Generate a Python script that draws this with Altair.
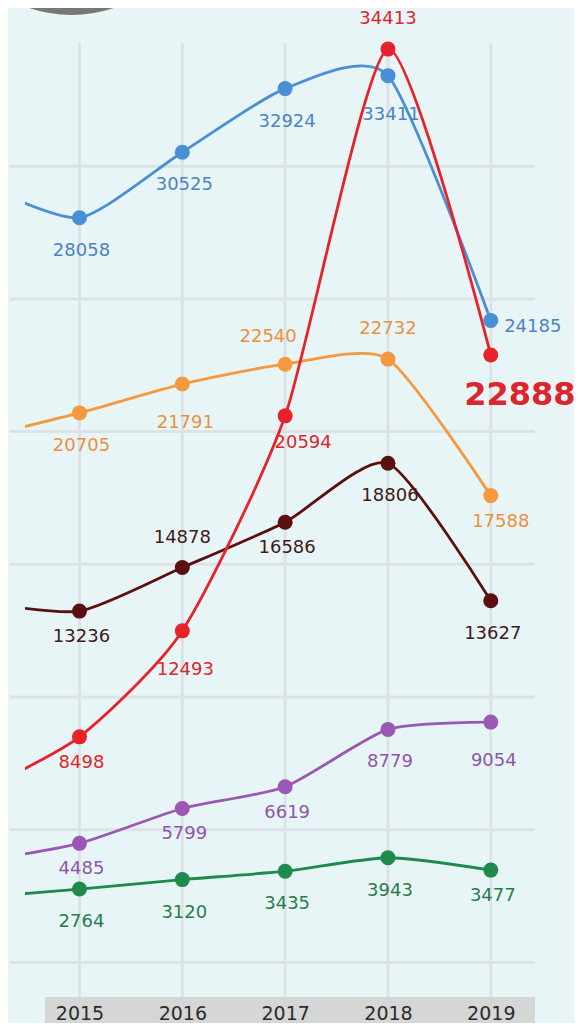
import altair as alt
import pandas as pd

# ---- data ----
years = [2014, 2015, 2016, 2017, 2018, 2019]
label_years = [2015, 2016, 2017, 2018, 2019]
grid_values = [0, 5000, 10000, 15000, 20000, 25000, 30000]

series_names = ["Blue", "Orange", "Brown", "Red", "Purple", "Green"]
blue_vals = [29400, 28058, 30525, 32924, 33411, 24185]
orange_vals = [19750, 20705, 21791, 22540, 22732, 17588]
brown_vals = [13600, 13236, 14878, 16586, 18806, 13627]
red_vals = [6400, 8498, 12493, 20594, 34413, 22888]
purple_vals = [3800, 4485, 5799, 6619, 8779, 9054]
green_vals = [2450, 2764, 3120, 3435, 3943, 3477]

# label placement keys for 2015..2019
blue_place = ["b", "b", "b", "bf", "r"]
orange_place = ["b", "bf", "al", "a", "bnr"]
brown_place = ["bn", "a", "bn", "b", "b"]
red_place = ["bn", "bf", "br", "a", "big"]
purple_place = ["bn", "bn", "bn", "b", "bf"]
green_place = ["b", "b", "b", "b", "bn"]

# ---- styles ----
line_colors = ["#4a8fd4", "#f4993d", "#5c0f10", "#e8212a", "#9a58b4", "#1e8a4b"]
text_colors = ["#4d84bf", "#e8913f", "#3f1a1a", "#dd252d", "#8d58a7", "#2a7b4c"]
offsets = {
    "b": (2, 33), "bn": (2, 26), "bf": (3, 39), "a": (0, -30), "al": (-17, -27),
    "r": (42, 6), "br": (18, 27), "bnr": (10, 26), "big": (29, 40),
}
BG = "#e8f5f6"
GRID = "#dbe3e6"
FONT = "DejaVu Sans"

all_vals = [blue_vals, orange_vals, brown_vals, red_vals, purple_vals, green_vals]
all_place = [blue_place, orange_place, brown_place, red_place, purple_place, green_place]

rows = []
for name, vals, places in zip(series_names, all_vals, all_place):
    for yr, v in zip(years, vals):
        place = places[label_years.index(yr)] if yr in label_years else ""
        rows.append({"series": name, "year": yr, "value": v, "place": place})
df = pd.DataFrame(rows)

W, H = 510, 989
xscale = alt.Scale(domain=[2014.47, 2019.43], nice=False, zero=False)
yscale = alt.Scale(domain=[-1304, 35961], nice=False, zero=False)

x_axis = alt.Axis(values=label_years, format="d", title=None, grid=False,
                  domain=False, ticks=False, tickSize=0, labelPadding=16,
                  labelBaseline="middle", labelFont=FONT, labelFontSize=19,
                  labelColor="#2b2b2b", zindex=2)
x_enc = alt.X("year:Q", scale=xscale, axis=x_axis)
y_enc = alt.Y("value:Q", scale=yscale, axis=None)

base = alt.Chart(df)

hgrid = alt.Chart(pd.DataFrame({"value": grid_values})).mark_rule(
    color=GRID, strokeWidth=3).encode(
    y=alt.Y("value:Q", scale=yscale, axis=None),
    x=alt.value(-15), x2=alt.value(W))

vgrid = alt.Chart(pd.DataFrame({"year": label_years})).mark_rule(
    color=GRID, strokeWidth=3).encode(
    x=x_enc, y=alt.value(35), y2=alt.value(H))

band = alt.Chart(pd.DataFrame({"k": [0]})).mark_rect(color="#d5d6d6").encode(
    x=alt.value(20), x2=alt.value(W), y=alt.value(H), y2=alt.value(H + 34))

logo = alt.Chart(pd.DataFrame({"k": [0]})).mark_point(
    shape="circle", size=67081, filled=False, fill="white", fillOpacity=1,
    stroke="#777777", strokeWidth=8, opacity=1).encode(
    x=alt.value(46.5), y=alt.value(-126.6))

color_line = alt.Color("series:N", scale=alt.Scale(domain=series_names, range=line_colors), legend=None)
color_text = alt.Color("series:N", scale=alt.Scale(domain=series_names, range=text_colors), legend=None)

lines = base.mark_line(interpolate="cardinal", tension=0.35, strokeWidth=2.8, clip=True).encode(
    x=x_enc, y=y_enc, color=color_line, detail="series:N",
    order=alt.Order("year:Q"))

points = base.transform_filter(alt.datum.year >= 2015).mark_point(
    filled=True, size=225, opacity=1).encode(x=x_enc, y=y_enc, color=color_line)

marks = alt.layer(lines, points)

text_layers = []
for key, (dx, dy) in offsets.items():
    big = key == "big"
    t = base.transform_filter(alt.datum.place == key).mark_text(
        dx=dx, dy=dy, font=FONT, fontSize=32 if big else 18,
        fontWeight="bold" if big else "normal", baseline="middle", align="center").encode(
        x=x_enc, y=y_enc, text=alt.Text("value:Q", format="d"), color=color_text)
    text_layers.append(t)
texts = alt.layer(*text_layers)

chart = alt.layer(hgrid, vgrid, band, logo, marks, texts).resolve_scale(
    color="independent").properties(
    width=W, height=H,
    autosize=alt.AutoSizeParams(type="none"),
    padding={"left": 17, "top": 0, "right": 39, "bottom": 26},
    background=BG,
).configure_view(stroke=None)

chart.save("out.html", embed_options={"renderer": "svg", "actions": False})
